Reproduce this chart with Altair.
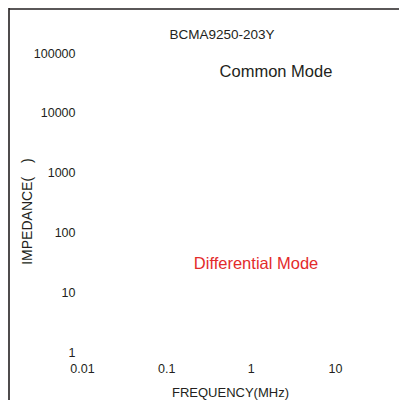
import altair as alt
import pandas as pd

# Axis ticks
x_ticks = [0.01, 0.1, 1, 10]
y_ticks = [1, 10, 100, 1000, 10000, 100000]

# Annotations (data coordinates)
ann_text = ["Common Mode", "Differential Mode"]
ann_freq = [2.0, 1.16]
ann_imp = [48000, 30]
ann_color = ["#231f20", "#e32b2b"]

chart_title = "BCMA9250-203Y"

FONT = "Liberation Sans"
INK = "#231f20"

ann = pd.DataFrame({"text": ann_text, "f": ann_freq, "z": ann_imp, "c": ann_color})

# plot area spans the whole frame width; frequency decades start 74px in
xscale = alt.Scale(type="log", domain=[0.001325, 56.04])
yscale = alt.Scale(type="log", domain=[1, 100000])

texts = alt.Chart(ann).mark_text(font=FONT, fontSize=16.5, align="center", baseline="middle").encode(
    x=alt.X("f:Q", scale=xscale,
            axis=alt.Axis(values=x_ticks, format="~g", grid=False, domain=False, ticks=False,
                          labelFlush=False,
                          labelFont=FONT, labelFontSize=12.5, labelColor=INK, labelPadding=10,
                          title="FREQUENCY(MHz)", titleFont=FONT, titleFontSize=13,
                          titleFontWeight="normal", titleColor=INK,
                          titleX=222, titleY=34, titleBaseline="top")),
    y=alt.Y("z:Q", scale=yscale,
            axis=alt.Axis(values=y_ticks, format="~g", grid=False, domain=False, ticks=False,
                          labelFlush=False, offset=-74,
                          labelFont=FONT, labelFontSize=12.5, labelColor=INK, labelPadding=7,
                          title="IMPEDANCE(\u2003)", titleFont=FONT, titleFontSize=14,
                          titleFontWeight="normal", titleColor=INK,
                          titleX=-51, titleY=158, titleAngle=270, titleAlign="center",
                          titleBaseline="alphabetic")),
    text="text:N",
    color=alt.Color("c:N", scale=None),
)

one = pd.DataFrame({"t": [chart_title]})
title_mark = alt.Chart(one).mark_text(font=FONT, fontSize=13.5, color=INK,
                                      align="center", baseline="middle").encode(
    x=alt.value(214), y=alt.value(-18), text="t:N")
left_rule = alt.Chart(one).mark_rule(color=INK, strokeWidth=1.6).encode(
    x=alt.value(1), y=alt.value(-45), y2=alt.value(347))
top_rule = alt.Chart(one).mark_tick(color=INK, orient="horizontal", thickness=1.6,
                                    size=390, opacity=1).encode(
    x=alt.value(196), y=alt.value(-44))

chart = alt.layer(texts, title_mark, left_rule, top_rule).properties(
    width=390, height=299,
    autosize=alt.AutoSizeParams(type="none"),
    padding={"left": 0, "top": 45, "right": 5, "bottom": 48},
    background="white",
).configure_view(stroke=None, strokeWidth=0)

chart.save("out.html", embed_options={"renderer": "svg", "actions": False})
